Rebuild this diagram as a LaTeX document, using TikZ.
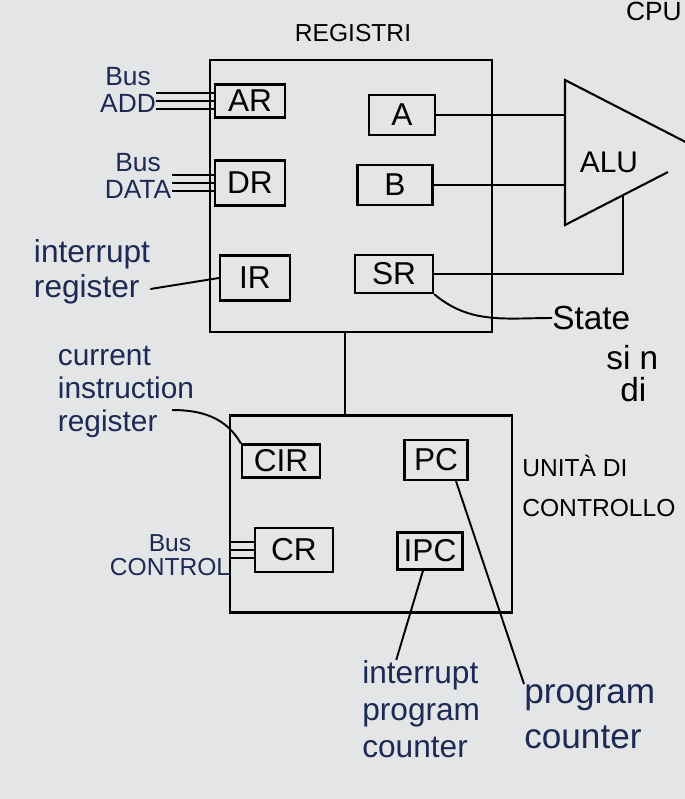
\documentclass[tikz,border=0pt]{standalone}
\usepackage{fontspec}
\setmainfont{Liberation Sans}
\usetikzlibrary{positioning}
\definecolor{ink}{HTML}{1C2A55}
\definecolor{paper}{HTML}{E4E5E6}

\begin{document}
\begin{tikzpicture}[x=0.02cm, y=-0.02cm]
    % Define styles
    \tikzstyle{frame} = [rectangle, draw, line width=1.2pt, inner sep=0pt]
    \tikzstyle{reg} = [rectangle, draw, line width=1.3pt, inner sep=0pt, font=\fontsize{18}{18}\selectfont]
    \tikzstyle{note} = [text=ink, inner sep=0pt, align=left]
    \tikzstyle{wire} = [line width=1.1pt]

    % paper and crop
    \fill[paper] (0,0) rectangle (685,799);
    \useasboundingbox (0,0) rectangle (685,799);
    \clip (0,0) rectangle (685,799);

    % REGISTRI block
    \node (title) [note, text=black, font=\fontsize{14}{14}\selectfont] at (353,33) {REGISTRI};
    \node (cpu) [note, text=black, font=\fontsize{15}{15}\selectfont, anchor=north east] at (682,2) {CPU};
    \node (registri) [frame, minimum width=5.64cm, minimum height=5.44cm] at (351,196) {};

    \node (AR) [reg, minimum width=1.4cm, minimum height=0.66cm] at (250,101) {AR};
    \node (A) [reg, minimum width=1.32cm, minimum height=0.8cm] at (402,115) {A};
    \node (DR) [reg, minimum width=1.4cm, minimum height=0.9cm] at (250,183) {DR};
    \node (B) [reg, minimum width=1.5cm, minimum height=0.8cm] at (395,185) {B};
    \node (IR) [reg, minimum width=1.4cm, minimum height=0.9cm] at (255,278) {IR};
    \node (SR) [reg, minimum width=1.56cm, minimum height=0.76cm] at (394,274) {SR};

    % bus labels
    \node (busadd) [note, align=center, font=\fontsize{15}{15}\selectfont] at (128,90) {Bus\\ADD};
    \node (busdata) [note, align=center, font=\fontsize{15}{15}\selectfont] at (138,176) {Bus\\DATA};
    \node (irnote) [note, font=\fontsize{18}{20}\selectfont] at (92,272) {interrupt\\register};

    \foreach \dy in {-1.6,0,1.6} {
        \draw [wire] ([yshift=\dy mm]AR.west) -- ([yshift=\dy mm]AR.west -| busadd.east);
        \draw [wire] ([yshift=\dy mm]DR.west) -- ([yshift=\dy mm]DR.west -| busdata.east);
    }
    \draw [wire] ([yshift=-3.4mm]irnote.east) -- (IR.west);

    % ALU
    \coordinate (alu_top) at (565,80);
    \coordinate (alu_bot) at (565,225);
    \coordinate (alu_sr) at (623,195);
    \draw [frame] (668,172) -- (alu_bot) -- (alu_top) -- (705,152);
    \node (alu) [note, text=black, font=\fontsize{17}{17}\selectfont] at (609,162) {ALU};

    \draw [wire] (A.east) -- (A.east -| alu_top);
    \draw [wire] (B.east) -- (B.east -| alu_top);
    \draw [wire] (SR.east) -| (alu_sr);

    % state signals
    \node (state) [note, text=black, font=\fontsize{19}{19}\selectfont, anchor=west] at (552,318) {State};
    \node (sin) [note, text=black, font=\fontsize{19}{19}\selectfont, anchor=west] at (606,358) {si n};
    \node (di) [note, text=black, font=\fontsize{19}{19}\selectfont, anchor=west] at (620,390) {di};
    \draw [wire] (SR.south east) to[out=-40, in=180] (state.west);

    % control unit
    \coordinate (link) at (345,0);
    \node (control) [frame, minimum width=5.64cm, minimum height=3.94cm] at (371,514) {};
    \draw [wire] (registri.south -| link) -- (control.north -| link);

    \node (CIR) [reg, minimum width=1.56cm, minimum height=0.66cm] at (281,461) {CIR};
    \node (PC) [reg, minimum width=1.26cm, minimum height=0.8cm] at (436,460) {PC};
    \node (CR) [reg, minimum width=1.56cm, minimum height=0.88cm] at (294,550) {CR};
    \node (IPC) [reg, minimum width=1.3cm, minimum height=0.74cm] at (430,551) {IPC};

    \node (cirnote) [note, font=\fontsize{17}{19}\selectfont] at (126,392) {current\\instruction\\register};
    \coordinate (cir_from) at (172,410);
    \draw [wire] (cir_from) to[out=0, in=120] (CIR.north west);

    \node (buscontrol) [note, align=center, font=\fontsize{14}{14}\selectfont] at (170,555) {Bus\\CONTROL};
    \foreach \dy in {-1.6,0,1.6}
        \draw [wire] ([yshift=\dy mm]CR.west) -- ([yshift=\dy mm]CR.west -| buscontrol.east);

    \node (unita) [note, text=black, font=\fontsize{14}{14}\selectfont, anchor=west] at (522,466) {UNITÀ DI};
    \node (controllo) [note, text=black, font=\fontsize{14}{14}\selectfont, anchor=west] at (522,508) {CONTROLLO};

    % counters
    \node (ipcnote) [note, font=\fontsize{18}{21}\selectfont, anchor=north west] at (362,660) {interrupt\\program\\counter};
    \node (pcnote) [note, font=\fontsize{20}{26}\selectfont, anchor=north west] at (524,684) {program\\counter};
    \draw [wire] ([xshift=-1.4mm]IPC.south) -- ([xshift=-5mm]ipcnote.north);
    \draw [wire] ([xshift=4mm]PC.south) -- (pcnote.north west);
\end{tikzpicture}
\end{document}
